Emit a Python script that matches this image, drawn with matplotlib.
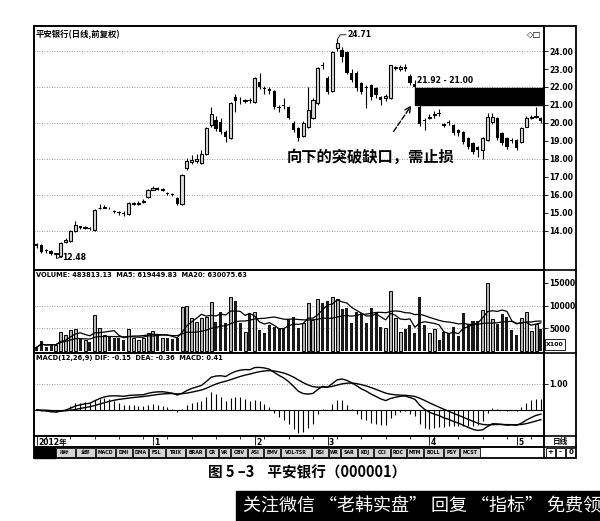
import numpy as np
import pandas as pd
import matplotlib
matplotlib.use('Agg')
import matplotlib.pyplot as plt
from matplotlib.patches import Rectangle

plt.rcParams['font.family'] = ['DejaVu Sans', 'Noto Sans CJK SC']

# daily candles
opens = [13.25, 13.2, 12.95, 12.9, 12.7, 12.6, 13.4, 13.45, 14.0, 14.25,
         14.15, 14.15, 14.05, 15.25, 15.3, 15.3, 15.1, 15.05, 15.0, 14.95,
         15.5, 15.5, 15.6, 15.9, 16.3, 16.4, 16.3, 16.1, 16.05, 15.85,
         15.5, 17.5, 17.85, 17.9, 17.8, 18.3, 19.9, 20.15, 20.05, 19.5,
         19.15, 21.45, 21.3, 21.2, 21.3, 21.15, 22.3, 21.95, 21.9, 21.8,
         20.9, 21.0, 20.9, 20.0, 19.7, 19.3, 19.8, 20.3, 21.1, 23.2,
         22.5, 21.8, 24.15, 24.05, 23.95, 22.8, 22.8, 22.2, 22.0, 22.1,
         21.95, 21.45, 21.4, 21.4, 23.05, 23.0, 23.1, 22.6, 22.15, 20.9,
         20.15, 20.3, 20.45, 20.55, 19.95, 20.05, 19.9, 19.6, 19.5, 19.15,
         18.9, 18.65, 18.5, 19.05, 20.05, 20.3, 19.45, 19.15, 19.05, 19.05,
         18.95, 19.8, 20.3, 20.35, 20.3]
closes = [13.15, 12.85, 12.9, 12.7, 12.75, 13.35, 13.5, 14.0, 14.35, 14.15,
          14.2, 14.1, 15.15, 15.3, 15.35, 15.25, 15.05, 15.0, 14.95, 15.55,
          15.5, 15.55, 15.65, 16.3, 16.4, 16.3, 16.3, 16.05, 16.0, 15.5,
          17.1, 17.9, 17.95, 18.0, 18.3, 19.7, 20.5, 19.65, 19.5, 19.2,
          21.1, 21.2, 21.25, 21.25, 21.2, 22.5, 22.0, 21.9, 21.75, 20.9,
          20.85, 20.95, 20.3, 19.6, 19.15, 20.0, 20.7, 21.3, 23.05, 23.15,
          21.7, 23.95, 24.45, 23.65, 22.8, 22.4, 21.95, 21.7, 21.95, 21.45,
          21.55, 21.3, 21.5, 23.2, 23.05, 23.1, 23.0, 22.2, 22.0, 19.95,
          20.1, 20.35, 20.45, 20.5, 19.85, 20.0, 19.45, 19.45, 18.95, 18.65,
          18.4, 18.5, 19.15, 20.35, 20.35, 19.15, 18.9, 18.65, 19.0, 18.6,
          19.7, 20.3, 20.3, 20.35, 20.1]
highs = [13.35, 13.25, 13.0, 12.95, 12.8, 13.4, 13.6, 14.05, 14.55, 14.3,
         14.3, 14.2, 15.2, 15.5, 15.45, 15.35, 15.15, 15.1, 15.1, 15.6,
         15.6, 15.65, 15.75, 16.35, 16.5, 16.45, 16.4, 16.15, 16.1, 15.9,
         17.15, 18.05, 18.2, 18.3, 18.5, 19.75, 20.9, 20.4, 20.3, 19.6,
         21.15, 21.6, 21.45, 21.35, 21.4, 22.55, 22.8, 22.05, 22.0, 21.85,
         21.0, 21.4, 20.95, 20.1, 19.75, 20.1, 22.0, 21.4, 23.1, 23.4,
         22.6, 24.0, 24.71, 24.2, 24.0, 23.0, 22.9, 22.3, 22.1, 22.15,
         22.0, 21.5, 21.6, 23.25, 23.15, 23.2, 23.3, 22.7, 22.4, 21.0,
         20.3, 20.5, 20.65, 20.8, 20.0, 20.15, 19.95, 19.65, 19.55, 19.2,
         18.95, 18.7, 19.2, 20.55, 20.55, 20.35, 19.5, 19.2, 19.15, 19.1,
         19.75, 20.4, 20.45, 20.9, 20.35]
lows = [13.05, 12.8, 12.8, 12.65, 12.48, 12.55, 13.35, 13.4, 13.95, 14.1,
        14.1, 14.05, 14.0, 15.2, 15.25, 15.2, 15.0, 14.9, 14.85, 14.9,
        15.45, 15.45, 15.55, 15.85, 16.25, 16.25, 16.2, 16.0, 15.95, 15.45,
        15.45, 17.4, 17.7, 17.75, 17.7, 18.2, 19.8, 19.55, 19.4, 18.95,
        19.1, 20.6, 21.05, 21.1, 21.1, 21.1, 21.9, 21.6, 21.6, 20.8,
        20.6, 20.8, 20.2, 19.5, 19.0, 19.2, 19.7, 20.2, 21.0, 23.0,
        21.6, 21.7, 24.0, 23.4, 22.7, 22.3, 21.8, 21.6, 20.85, 21.3,
        21.4, 21.0, 21.2, 21.35, 22.95, 22.9, 22.9, 22.1, 21.92, 19.85,
        19.6, 20.2, 20.3, 20.4, 19.75, 19.9, 19.35, 19.3, 18.85, 18.55,
        18.3, 18.1, 18.0, 19.0, 19.95, 19.05, 18.8, 18.55, 18.9, 18.5,
        18.9, 19.75, 20.2, 20.25, 20.0]
# volume in x100 shares
volumes = [810, 2200, 950, 1650, 1400, 4250, 3520, 4620, 4900, 2750,
           2400, 2050, 7920, 4990, 3520, 3150, 2780, 2780, 2420, 4770,
           2780, 2420, 2780, 4030, 4470, 3520, 2780, 2780, 2570, 2780,
           9600, 9970, 7190, 6450, 7190, 7550, 10850, 6450, 8650, 6090,
           11800, 11000, 6090, 4250, 8280, 8650, 4620, 3900, 5720, 5350,
           4990, 4770, 6970, 7550, 4990, 6090, 10640, 6820, 11370, 10640,
           11070, 11800, 11370, 9170, 9390, 6090, 8650, 8280, 6090, 9530,
           8280, 5350, 5000, 13270, 7330, 4250, 4770, 5720, 4030, 11950,
           5720, 3890, 4770, 2420, 4250, 3890, 5210, 3300, 8280, 5940,
           6670, 6670, 9020, 14960, 6970, 5940, 8140, 7550, 4620, 3520,
           7330, 8500, 4400, 5870, 4840]

month_labels = ['2012年', '1', '2', '3', '4', '5']
month_pos = [0, 24, 45, 60, 81, 99]
price_ticks = [14, 15, 16, 17, 18, 19, 20, 21, 22, 23, 24]
price_grid = [14, 16, 18, 20, 22, 24]
vol_ticks = [5000, 10000, 15000]
buttons = ['指标', '全部', 'MACD', 'DMI', 'DMA', 'FSL', 'TRIX', 'BRAR', 'CR', 'VR',
           'OBV', 'ASI', 'EMV', 'VOL-TSR', 'RSI', 'WR', 'SAR', 'KDJ', 'CCI', 'ROC',
           'MTM', 'BOLL', 'PSY', 'MCST']

o = np.array(opens)
c = np.array(closes)
h = np.array(highs)
l = np.array(lows)
v = np.array(volumes)
x = np.arange(len(c))
up = c >= o

vol_s = pd.Series(v, dtype=float)
ma5 = vol_s.rolling(5, min_periods=1).mean()
ma20 = vol_s.rolling(20, min_periods=1).mean()
cs = pd.Series(c)
dif = cs.ewm(span=12, adjust=False).mean() - cs.ewm(span=26, adjust=False).mean()
dea = dif.ewm(span=9, adjust=False).mean()
hist = 2 * (dif - dea)

W, H = 600, 521
fig = plt.figure(figsize=(6, 5.21), dpi=100)


def px_axes(x0, y0, x1, y1):
    return fig.add_axes([x0 / W, 1 - y1 / H, (x1 - x0) / W, (y1 - y0) / H])


XL = (-0.52, 104.64)
grid_kw = dict(color='#777777', ls=(0, (1, 2)), lw=0.6, zorder=0)


def style(ax):
    ax.set_xlim(*XL)
    ax.set_xticks([])
    ax.yaxis.tick_right()
    ax.tick_params(axis='y', labelsize=5.5, length=3, width=0.6, pad=1)
    for s in ax.spines.values():
        s.set_linewidth(1.2)
    for lab in ax.get_yticklabels():
        lab.set_fontweight('bold')


# price panel
ax = px_axes(34, 26, 544, 270)
for g in price_grid:
    ax.axhline(g, **grid_kw)
ax.vlines(x, l, h, color='black', lw=0.8, zorder=2)
body = np.maximum(np.abs(c - o), 0.05)
ax.bar(x[up], body[up], bottom=np.minimum(o, c)[up], width=0.66,
       facecolor='#dcdcdc', edgecolor='black', lw=0.8, zorder=3)
ax.bar(x[~up], body[~up], bottom=np.minimum(o, c)[~up], width=0.66,
       color='black', zorder=3)
ax.set_ylim(11.83, 25.39)
ax.set_yticks(price_ticks)
ax.set_yticklabels(['%.2f' % t for t in price_ticks])
style(ax)
ax.text(0.004, 0.985, '平安银行(日线,前复权)', transform=ax.transAxes, va='top',
        ha='left', fontsize=6, fontweight='bold', family=['Noto Sans CJK SC'])
ax.text(0.995, 0.985, '◇□', transform=ax.transAxes, va='top', ha='right', fontsize=6)

# gap box and notes
ax.add_patch(Rectangle((78.0, 21.0), XL[1] - 78.0, 0.92, color='black', zorder=4))
ax.text(78.4, 22.1, '21.92 - 21.00', fontsize=5.5, fontweight='bold', va='bottom')
ax.annotate('', xy=(77.6, 21.1), xytext=(73.3, 19.4),
            arrowprops=dict(arrowstyle='->', ls='--', lw=1.0, color='black'))
ax.text(51.6, 18.1, '向下的突破缺口，需止损', fontsize=11, fontweight='bold',
        va='center', ha='left', family=['Noto Sans CJK SC'])
ax.plot([62.2, 62.6, 63.8], [24.71, 24.9, 24.9], color='black', lw=0.6)
ax.text(64.0, 24.9, '24.71', fontsize=5.5, fontweight='bold', va='center')
ax.plot([4.2, 5.2], [12.48, 12.55], color='black', lw=0.6)
ax.text(5.3, 12.55, '12.48', fontsize=5.5, fontweight='bold', va='center')

# volume panel
axv = px_axes(34, 270, 544, 353)
for g in [5000, 10000]:
    axv.axhline(g, **grid_kw)
axv.bar(x[up], v[up], width=0.62, facecolor='#b4b4b4', edgecolor='black', lw=0.7, zorder=2)
axv.bar(x[~up], v[~up], width=0.62, color='#1a1a1a', zorder=2)
axv.plot(x, ma5, color='black', lw=0.9, zorder=3)
axv.plot(x, ma20, color='black', lw=0.9, zorder=3)
axv.set_ylim(-440, 17820)
axv.set_yticks(vol_ticks)
axv.set_yticklabels([str(t) for t in vol_ticks])
style(axv)
axv.text(0.004, 0.97, 'VOLUME: 483813.13  MA5: 619449.83  MA20: 630075.63',
         transform=axv.transAxes, va='top', fontsize=4.8, fontweight='bold')

# macd panel
axm = px_axes(34, 353, 544, 436)
axm.axhline(1.0, **grid_kw)
axm.axhline(0, color='black', lw=0.8)
axm.vlines(x, 0, hist, color='black', lw=0.8)
axm.plot(x, dif, color='black', lw=1.0)
axm.plot(x, dea, color='black', lw=1.0)
axm.set_ylim(-1.0, 2.19)
axm.set_yticks([1.0])
axm.set_yticklabels(['1.00'])
style(axm)
axm.text(0.004, 0.97, 'MACD(12,26,9) DIF: -0.15  DEA: -0.36  MACD: 0.41',
         transform=axm.transAxes, va='top', fontsize=4.8, fontweight='bold')

# date strip
axd = px_axes(34, 436, 544, 447)
axd.set_xlim(*XL)
axd.set_ylim(0, 1)
axd.set_xticks([])
axd.set_yticks([])
for s in axd.spines.values():
    s.set_linewidth(1.2)
axd.vlines(np.arange(2, len(c), 5), 0.75, 1, color='black', lw=0.6)
for lab, p in zip(month_labels, month_pos):
    axd.vlines(p, 0.2, 1, color='black', lw=0.6)
    axd.text(p + 0.3, 0.45, lab, fontsize=5.5, fontweight='bold', va='center', ha='left')

# frame, buttons, caption
ov = fig.add_axes([0, 0, 1, 1])
ov.set_xlim(0, W)
ov.set_ylim(H, 0)
ov.axis('off')
ov.set_zorder(10)
ov.patch.set_alpha(0)
ov.add_patch(Rectangle((34, 26), 542, 432, fill=False, lw=1.3, color='black'))
for yy in [270, 353, 436, 447]:
    ov.plot([34, 576], [yy, yy], color='black', lw=1.2)
ov.plot([544, 544], [26, 458], color='black', lw=1.2)

ov.add_patch(Rectangle((545, 339), 20, 11, fill=False, lw=0.6, color='black'))
ov.text(555, 344.5, 'X100', fontsize=4.5, ha='center', va='center', fontweight='bold')
ov.text(560, 441.5, '日线', fontsize=5.5, ha='center', va='center', fontweight='bold',
        family=['Noto Sans CJK SC'])

ov.add_patch(Rectangle((34, 447), 21, 11, color='black'))
lens = np.array([2 * len(b) if not b.isascii() else len(b) for b in buttons], dtype=float)
widths = (lens * 3.0 + 4)
widths = widths * (425 / widths.sum())
bx = 55.0
for b, w in zip(buttons, widths):
    ov.add_patch(Rectangle((bx + 0.5, 448), w - 1, 9, facecolor='#d4d4d4',
                           edgecolor='black', lw=0.6))
    ov.text(bx + w / 2, 452.5, b, fontsize=3.4, ha='center', va='center',
            fontweight='bold', family=['DejaVu Sans', 'Noto Sans CJK SC'])
    bx += w
for k, s in enumerate(['+', '-', '0']):
    ov.add_patch(Rectangle((545.5 + k * 10.2, 448), 9.5, 9, facecolor='white',
                           edgecolor='black', lw=0.6))
    ov.text(550.3 + k * 10.2, 452.5, s, fontsize=5, ha='center', va='center', fontweight='bold')

ov.text(307, 472, '图 5 –3    平安银行（000001）', fontsize=10.5, ha='center', va='center',
        fontweight='bold', family=['Noto Sans CJK SC', 'DejaVu Sans'])
ov.add_patch(Rectangle((236, 491), 364, 30, color='black'))
ov.text(243, 506, '关注微信 “老韩实盘” 回复 “指标” 免费领', fontsize=13, ha='left',
        va='center', color='white', family=['Noto Sans CJK SC', 'DejaVu Sans'])

fig.savefig('out.png', dpi=100)
